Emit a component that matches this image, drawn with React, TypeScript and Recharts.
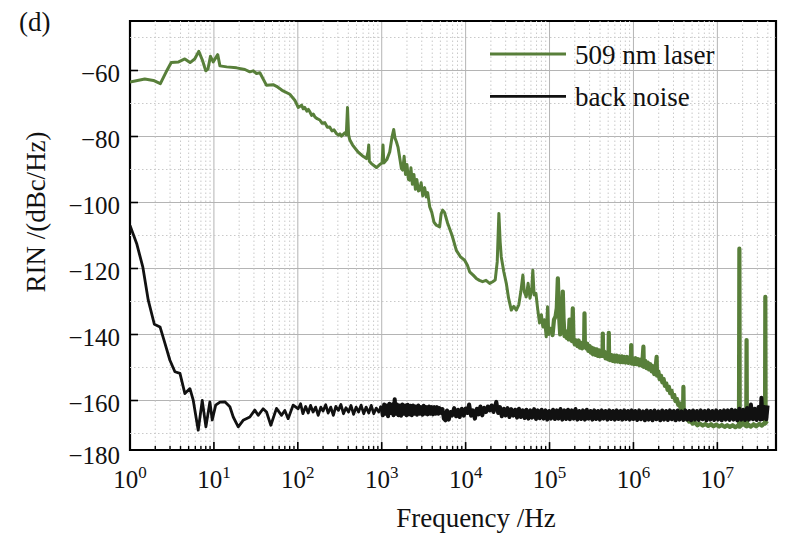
import React from 'react';
import {
  LineChart,
  Line,
  XAxis,
  YAxis,
  CartesianGrid,
  ReferenceLine,
  ReferenceArea,
} from 'recharts';

const FONT = '"Liberation Serif", "Times New Roman", serif';
const LASER_COLOR = '#587f3a';
const NOISE_COLOR = '#111111';

// Axes: frequency (Hz, log) and RIN (dBc/Hz)
const freqDomain: [number, number] = [1, 5e7];
const rinDomain: [number, number] = [-175, -45];
const freqMajorTicks = [1, 10, 100, 1e3, 1e4, 1e5, 1e6, 1e7];
const freqMinorMultipliers = [2, 3, 4, 5, 6, 7, 8, 9];
const rinTicks = [-175, -160, -140, -120, -100, -80, -60];
const rinMinorGrid = [-170, -150, -130, -110, -90, -70, -50];
const rinBottomLabel = '\u2212180';

// 509 nm laser RIN, [frequency Hz, dBc/Hz] – low-frequency part
const laserLow: [number, number][] = [
  [1, -63.5], [1.5, -62.6], [1.9, -63], [2.3, -64], [2.7, -60.4], [3.1, -57.6],
  [3.8, -57.4], [4.5, -56.5], [5.2, -57.6], [5.9, -56.5], [6.6, -54.2], [7.3, -56.9],
  [8.0, -60.1], [8.5, -59.5], [9.1, -55.7], [9.8, -57.4], [11.1, -55.2], [11.8, -58.6],
  [14.2, -58.9], [18.6, -59.2], [23.4, -59.7], [26.8, -60.4], [29.4, -60.1], [32.2, -60.9],
  [35.3, -60.7], [42.4, -64.5], [50.8, -64.3], [55.7, -64.8], [66.8, -66.2], [80.3, -67.2],
  [92.1, -69], [101, -71.2], [111, -70.5], [116, -71.6], [121, -71.2], [128, -72.3],
  [134, -71.8], [139, -72.5], [146, -73.6], [153, -73.2], [160, -74.1], [170, -74.6],
  [183, -75], [195, -76], [210, -75.8], [225, -77.2], [240, -77.1], [255, -78.3],
  [270, -78], [289, -79.1], [305, -79.6], [318, -79.2], [331, -79.9], [363, -78.9],
  [378, -79.5], [391, -71.2], [403, -79.5], [416, -81], [450, -82.6], [522, -84.7],
  [600, -86], [657, -86.7], [690, -84.5], [700, -82.6], [712, -87.5], [754, -88.2],
  [865, -89.4], [946, -88.5], [1010, -88], [1036, -82.6], [1060, -88], [1150, -87],
  [1245, -84.7], [1330, -80], [1389, -77.9], [1440, -80.5], [1496, -81.6], [1563, -83.2],
  [1716, -89.7], [1778, -90.2], [1850, -86], [1920, -91.5], [2000, -88.5], [2080, -93],
  [2154, -93.2], [2230, -89.5], [2320, -94.5], [2420, -91.5], [2520, -96], [2620, -93],
  [2740, -96.5], [2833, -96.3], [2950, -94], [3080, -98], [3250, -95.5], [3400, -98.3],
  [3530, -97], [3728, -101.3], [3950, -103], [4200, -106], [4477, -106.9], [4900, -107.4],
  [5100, -103.5], [5322, -102.3], [5600, -103], [6105, -106.3], [6900, -110], [7747, -114.5],
  [8700, -116.5], [9727, -117.5], [10500, -119], [11170, -121], [12300, -122], [13400, -123],
  [14600, -123.6], [15920, -124], [17500, -123.6], [19310, -124.5], [21000, -124], [22500, -123.5],
  [23800, -118], [24900, -103.3], [25800, -112], [26600, -116.5], [28500, -121], [30530, -124.5],
  [32500, -129], [35000, -132.6], [37500, -131.5], [40180, -132.6], [43000, -131], [45500, -127],
  [48110, -122], [50000, -127], [52800, -128.6], [55500, -124.5], [58500, -129], [61500, -126],
  [63200, -120.5], [65500, -128], [68800, -127.5], [72000, -132], [76000, -136.5], [80000, -134],
  [83200, -137.7], [87000, -135.5], [91300, -140.7], [94700, -131.6], [98000, -140], [104700, -137.7],
];

// 509 nm laser RIN – high-frequency part (denser trace)
const laserHigh: [number, number][] = [
  [104700, -137.7], [108600, -140.2], [113000, -135.5], [118000, -134.5], [122000, -132],
  [125600, -123], [129000, -133], [134000, -140], [137800, -137.5], [141000, -133.5],
  [143900, -127], [147000, -135.5], [151000, -140.5], [155000, -139], [160000, -141],
  [165100, -139], [169000, -141.5], [172900, -135.5], [176000, -141.5], [181000, -140.5],
  [185000, -142], [189300, -132.1], [193000, -141.5], [200000, -143], [207800, -141.8],
  [215000, -143.5], [222000, -141.8], [230000, -144], [237000, -142.5], [245000, -144.2],
  [253000, -142.5], [258000, -143.5], [261000, -133.6], [264000, -143.5], [273400, -144.2],
  [282000, -142.8], [290000, -145], [300000, -143.5], [310000, -145.5], [320000, -144],
  [330000, -146], [341000, -144.3], [352000, -146.2], [364000, -144.5], [376000, -146.5],
  [388000, -144.8], [400000, -146.6], [415000, -145], [428000, -146.5], [431300, -139.7],
  [435000, -146.5], [448000, -145.2], [465000, -147.2], [480000, -145.6], [495000, -147.5],
  [505000, -146], [508500, -139.5], [512000, -146], [525000, -147.8], [545000, -146.2],
  [565000, -148], [585000, -146.4], [605000, -148.2], [628000, -146.4], [650000, -148.2],
  [675000, -146.6], [700000, -148.4], [726000, -146.6], [752000, -148.4], [780000, -146.8],
  [808000, -148.5], [838000, -146.8], [868000, -148.6], [900000, -147], [930000, -148.5],
  [939500, -143.2], [950000, -148.8], [985000, -147.2], [1020000, -149], [1060000, -147.2],
  [1100000, -149], [1140000, -147.5], [1180000, -149.3], [1225000, -147.6], [1270000, -149.5],
  [1315000, -143.7], [1330000, -149.8], [1380000, -148], [1430000, -150.2], [1480000, -148.5],
  [1535000, -150.6], [1590000, -149], [1650000, -151.2], [1710000, -149.6], [1770000, -152],
  [1830000, -150.5], [1890000, -146.8], [1910000, -152.5], [1980000, -151.2], [2050000, -153.5],
  [2130000, -152.5], [2210000, -154.5], [2290000, -153.5], [2370000, -155.6], [2460000, -154.8],
  [2550000, -156.8], [2640000, -155.8], [2740000, -157.8], [2840000, -157], [2950000, -159],
  [3060000, -158.3], [3170000, -160.2], [3290000, -159.5], [3410000, -161.3], [3530000, -160.8],
  [3660000, -162.6], [3800000, -162.3], [3900000, -164], [3940000, -155.9], [3980000, -164],
  [4100000, -164.4], [4250000, -165.6], [4400000, -165.4], [4600000, -166.4], [4800000, -166.2],
  [5080000, -167], [5400000, -166.6], [5800000, -167.5], [6200000, -167], [6700000, -167.6],
  [7200000, -167.1], [7800000, -167.7], [8400000, -167.2], [9000000, -167.8], [9700000, -167.3],
  [10500000, -167.9], [11300000, -167.4], [12200000, -168], [13100000, -167.5], [14100000, -168],
  [15200000, -167.5], [16400000, -168.1], [17600000, -167.6], [18100000, -167.9], [18300000, -114],
  [18500000, -167.9], [19500000, -167.4], [20600000, -166.6], [21500000, -167.6], [22100000, -167.8],
  [22300000, -141.7], [22500000, -167.8], [23500000, -167.3], [25000000, -167.9], [27000000, -167.2],
  [29000000, -167.8], [31500000, -167.1], [34000000, -167.6], [36500000, -166.8], [37000000, -167],
  [37300000, -128.6], [37600000, -166.8], [38600000, -166.4], [39700000, -166.2],
];

// Background (detector) noise – low-frequency part
const noiseLow: [number, number][] = [
  [1, -107], [1.2, -112.4], [1.42, -119.5], [1.65, -129.6], [1.95, -136.9], [2.28, -137.7],
  [2.61, -142.7], [2.99, -147.8], [3.43, -151.3], [3.94, -151.8], [4.51, -157.9], [5.18, -156.4],
  [5.67, -159.9], [6.5, -169], [7.26, -160], [8.03, -168], [8.96, -160.4], [9.55, -165.9],
  [10.5, -161.4], [11.8, -160.5], [13.5, -160.4], [15.5, -161.9], [17, -165], [19.5, -168],
  [22.3, -166], [26.8, -165], [30.7, -162.9], [33.7, -164.5], [38.6, -162.5], [42.4, -163.5],
  [47.7, -167.5], [55.7, -162.4], [64, -164.5], [70, -163], [76.7, -165.5], [87.9, -161.4],
  [101, -162.5], [108, -161], [115, -164], [124, -161.8], [133, -163.8], [142, -161.5],
  [152, -163.5], [163, -162], [175, -164.5], [188, -162], [200, -163.2], [215, -161.3],
  [230, -163.8], [247, -162], [265, -164.5], [284, -161.8], [305, -163], [326, -161.2],
  [350, -164], [375, -162.2], [402, -163.5], [430, -161.5], [462, -164.2], [495, -162],
  [530, -163.5], [568, -161.4], [610, -164], [652, -162], [700, -163.8], [750, -161.5],
  [803, -164], [860, -162.3], [922, -163.5], [988, -161.6],
];

// Background noise – high-frequency part (denser trace)
const noiseHigh: [number, number][] = [
  [988, -161.6], [1030, -164.5], [1070, -161.2], [1110, -164], [1150, -161.5], [1190, -164.8],
  [1235, -161], [1280, -163.8], [1330, -161.2], [1380, -164.5], [1428, -159.6], [1470, -164],
  [1520, -161.2], [1580, -164.5], [1640, -161.5], [1700, -164.6], [1760, -161.2], [1830, -164],
  [1900, -161.5], [1970, -164.5], [2040, -161.3], [2120, -164.2], [2200, -161.6], [2280, -164.5],
  [2360, -161.5], [2450, -164], [2540, -161.8], [2630, -164.3], [2730, -161.5], [2830, -164],
  [2940, -162], [3050, -164.3], [3160, -161.6], [3280, -164], [3400, -162], [3530, -164.2],
  [3660, -161.8], [3800, -164], [3940, -162], [4090, -164.2], [4240, -162], [4400, -164],
  [4560, -162], [4730, -164], [4900, -162.3], [5100, -163.8], [5300, -162.6], [5500, -165.5],
  [5750, -166], [6000, -163], [6300, -165.8], [6600, -163.5], [6900, -164.5], [7300, -162.3],
  [7700, -164.8], [8100, -162.8], [8500, -165], [9000, -162.5], [9500, -164.6], [10000, -162.4],
  [10500, -163.8], [11000, -161.2], [11600, -164.6], [12200, -163], [12900, -165.5], [13600, -162.5],
  [14300, -164.2], [15000, -161.8], [15800, -164.5], [16600, -162.2], [17500, -163.5], [18400, -161.8],
  [19400, -163], [20400, -161.5], [21500, -163.5], [23200, -160.4], [24400, -163.8], [25700, -162],
  [27000, -164.8], [28500, -162.5], [30000, -164.5], [31600, -162.3], [33300, -165], [35000, -162.6],
  [37000, -164.6], [39000, -162.8], [41000, -165.2], [43200, -162.5], [45500, -165], [48000, -163],
  [50500, -165.3], [53000, -162.8], [56000, -165.5], [59000, -163], [62000, -165.2], [65500, -162.6],
  [69000, -165.6], [72500, -163], [76500, -165.4], [80500, -162.8], [85000, -165.5], [89500, -163],
  [94000, -165.8], [99000, -163.2], [104000, -165.5], [110000, -162.8], [116000, -165.6], [122000, -163],
  [128000, -165.5], [135000, -162.6], [142000, -165.8], [150000, -163], [158000, -165.6], [166000, -162.8],
  [175000, -165.7], [184000, -163], [194000, -165.5], [204000, -162.6], [215000, -165.8], [226000, -163.2],
  [238000, -165.6], [250000, -163], [264000, -165.8], [278000, -162.8], [292000, -165.5], [308000, -163.2],
  [324000, -165.8], [341000, -163], [359000, -165.6], [378000, -163.2], [398000, -165.8], [419000, -163],
  [441000, -165.5], [464000, -163.2], [489000, -165.8], [515000, -163], [542000, -165.6], [570000, -163.2],
  [600000, -165.8], [632000, -163], [665000, -165.6], [700000, -163.2], [737000, -165.8], [776000, -163],
  [817000, -165.6], [860000, -163.2], [905000, -165.8], [953000, -163], [1000000, -165.6], [1050000, -163.2],
  [1110000, -165.9], [1170000, -163], [1230000, -165.7], [1300000, -163.3], [1370000, -166], [1440000, -163],
  [1520000, -165.8], [1600000, -163.2], [1690000, -166], [1780000, -163], [1880000, -165.7], [1980000, -163.3],
  [2090000, -166], [2200000, -163], [2320000, -165.8], [2450000, -163.2], [2580000, -165.9], [2720000, -163],
  [2870000, -165.7], [3020000, -163.2], [3190000, -166], [3360000, -163], [3540000, -165.8], [3730000, -163.3],
  [3940000, -165.9], [4150000, -163], [4380000, -165.8], [4620000, -163.2], [4870000, -166], [5130000, -163],
  [5410000, -165.8], [5700000, -163.2], [6010000, -165.9], [6340000, -163], [6680000, -165.7], [7050000, -163.2],
  [7430000, -166], [7830000, -163], [8260000, -165.8], [8710000, -163.2], [9180000, -165.9], [9680000, -163],
  [10200000, -165.8], [10800000, -163.2], [11300000, -166], [12000000, -163], [12600000, -165.8], [13300000, -163],
  [14000000, -165.9], [14800000, -162.8], [15600000, -165.8], [16400000, -163], [17300000, -166], [18300000, -162.5],
  [19300000, -165.8], [20300000, -162.8], [21400000, -165.9], [22600000, -162.3], [23800000, -165.8], [25100000, -161.2],
  [26500000, -165.7], [27900000, -162.5], [29400000, -165.9], [31000000, -162], [32700000, -165.8], [33500000, -159.2],
  [34500000, -165.6], [36300000, -162], [38300000, -165.7], [39700000, -161.5],
];

const toPoints = (pairs: [number, number][]) => pairs.map(([f, v]) => ({ f, v }));

const series = [
  { key: 'laser-low', name: '509 nm laser', data: toPoints(laserLow), color: LASER_COLOR, width: 3 },
  { key: 'laser-high', name: '509 nm laser', data: toPoints(laserHigh), color: LASER_COLOR, width: 4.2 },
  { key: 'noise-low', name: 'back noise', data: toPoints(noiseLow), color: NOISE_COLOR, width: 2.8 },
  { key: 'noise-high', name: 'back noise', data: toPoints(noiseHigh), color: NOISE_COLOR, width: 4 },
];

const legendItems = [
  { name: '509 nm laser', color: LASER_COLOR },
  { name: 'back noise', color: NOISE_COLOR },
];

const freqMinorTicks = freqMajorTicks
  .flatMap((d) => freqMinorMultipliers.map((m) => m * d))
  .filter((f) => f < freqDomain[1]);

const formatRin = (v: number) => (v === rinDomain[0] ? rinBottomLabel : `\u2212${Math.abs(v)}`);

const RinTick = (props: any) => {
  const { x, y, payload } = props;
  const shift = payload.value === rinDomain[0] ? 14 : 11;
  return (
    <text x={x} y={y + shift} textAnchor="end" fontFamily={FONT} fontSize={25} fill="#111">
      {formatRin(payload.value)}
    </text>
  );
};

const FreqTick = (props: any) => {
  const { x, y, payload } = props;
  const exp = Math.round(Math.log10(payload.value));
  return (
    <text x={x} y={y} textAnchor="middle" fontFamily={FONT} fontSize={25} fill="#111">
      10
      <tspan dy={-10} fontSize={17}>
        {exp}
      </tspan>
    </text>
  );
};

const majorTickLen = 2.4; // dB
const minorTickLen = 1.2; // dB
const yTickReach = 1.245; // factor along log frequency axis

export default function App() {
  return (
    <div style={{ position: 'absolute', left: 0, top: 0, width: 800, height: 541, background: '#fff' }}>
      <LineChart
        width={800}
        height={541}
        margin={{ top: 21, right: 24, bottom: 31, left: 0 }}
      >
        <CartesianGrid stroke="#b4b4b4" strokeWidth={1} />
        {freqMinorTicks.map((f) => (
          <ReferenceLine key={`gx${f}`} x={f} stroke="#c9c9c9" strokeWidth={1} strokeDasharray="1.5 2.5" />
        ))}
        {rinMinorGrid.map((v) => (
          <ReferenceLine key={`gy${v}`} y={v} stroke="#c9c9c9" strokeWidth={1} strokeDasharray="1.5 2.5" />
        ))}
        <XAxis
          dataKey="f"
          type="number"
          scale="log"
          domain={freqDomain}
          allowDataOverflow
          ticks={freqMajorTicks}
          tick={<FreqTick />}
          tickLine={false}
          axisLine={false}
          tickSize={0}
          tickMargin={38}
          height={60}
        />
        <YAxis
          type="number"
          domain={rinDomain}
          allowDataOverflow
          ticks={rinTicks}
          tick={<RinTick />}
          tickLine={false}
          axisLine={false}
          tickSize={0}
          tickMargin={10}
          width={130}
        />
        {series.map((s) => (
          <Line
            key={s.key}
            data={s.data}
            dataKey="v"
            name={s.name}
            type="linear"
            stroke={s.color}
            strokeWidth={s.width}
            strokeLinejoin="round"
            dot={false}
            activeDot={false}
            isAnimationActive={false}
          />
        ))}
        {freqMinorTicks.map((f) => (
          <ReferenceLine
            key={`tx${f}`}
            segment={[{ x: f, y: rinDomain[0] }, { x: f, y: rinDomain[0] + minorTickLen }]}
            stroke="#000"
            strokeWidth={1.4}
          />
        ))}
        {freqMajorTicks.map((f) => (
          <ReferenceLine
            key={`tX${f}`}
            segment={[{ x: f, y: rinDomain[0] }, { x: f, y: rinDomain[0] + majorTickLen }]}
            stroke="#000"
            strokeWidth={1.6}
          />
        ))}
        {rinTicks.map((v) => (
          <ReferenceLine
            key={`ty${v}`}
            segment={[{ x: freqDomain[0], y: v }, { x: freqDomain[0] * yTickReach, y: v }]}
            stroke="#000"
            strokeWidth={1.6}
          />
        ))}
        <ReferenceArea
          x1={freqDomain[0]}
          x2={freqDomain[1]}
          y1={rinDomain[0]}
          y2={rinDomain[1]}
          fill="none"
          fillOpacity={0}
          stroke="#000"
          strokeWidth={2.2}
        />
      </LineChart>
      <svg
        width={800}
        height={541}
        style={{ position: 'absolute', left: 0, top: 0, pointerEvents: 'none' }}
      >
        <text x={19} y={31} fontFamily={FONT} fontSize={27} fill="#111">(d)</text>
        <text
          x={45}
          y={212}
          transform="rotate(-90 45 212)"
          textAnchor="middle"
          fontFamily={FONT}
          fontSize={27}
          fill="#111"
        >
          RIN /(dBc/Hz)
        </text>
        <text x={476} y={527} textAnchor="middle" fontFamily={FONT} fontSize={27} fill="#111">
          Frequency /Hz
        </text>
        {legendItems.map((item, i) => (
          <g key={item.name}>
            <line x1={490} x2={566} y1={54 + i * 42.3} y2={54 + i * 42.3} stroke={item.color} strokeWidth={2.8} />
            <text x={575} y={64 + i * 42.3} fontFamily={FONT} fontSize={27} fill="#111">
              {item.name}
            </text>
          </g>
        ))}
      </svg>
    </div>
  );
}
